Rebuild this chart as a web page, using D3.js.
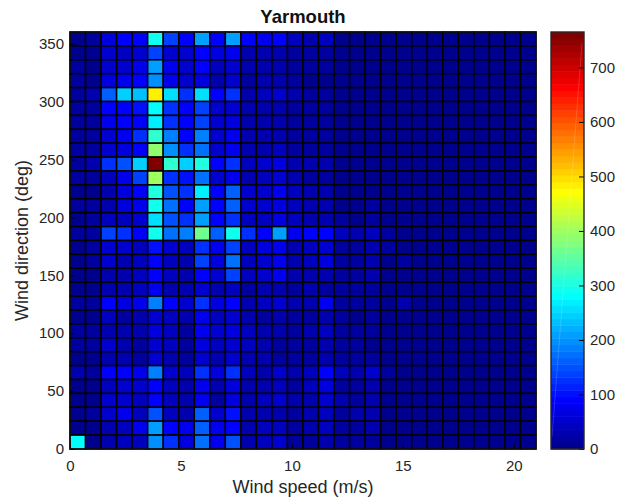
<!DOCTYPE html>
<html><head><meta charset="utf-8">
<script src="https://cdn.jsdelivr.net/npm/d3@7"></script>
<style>html,body{margin:0;background:#fff}svg{display:block}text{font-family:"Liberation Sans",Arial,sans-serif}</style>
</head><body><div id="c"></div>
<script>
const title = "Yarmouth";
const xLabel = "Wind speed (m/s)";
const yLabel = "Wind direction (deg)";
const xTicks = [0,5,10,15,20];
const yTicks = [0,50,100,150,200,250,300,350];
const cTicks = [0,100,200,300,400,500,600,700];
const speedStep = 0.7, dirStep = 12, cMax = 765;
// rows listed from the top of the plot (348-360 deg) down to 0-12 deg; 30 speed bins per row
const r29=[10,15,65,85,90,290,140,90,215,95,215,90,75,95,45,30,45,8,6,6,3,3,3,2,1,1,1,1,1,1];
const r28=[10,6,50,45,50,140,55,50,95,60,80,25,30,35,20,12,15,6,5,5,3,2,2,1,1,1,1,1,1,1];
const r27=[12,8,50,55,75,205,80,50,85,45,50,25,30,35,15,12,12,5,5,4,2,2,1,1,1,1,1,1,1,1];
const r26=[12,8,60,80,95,195,75,50,70,35,50,20,25,25,15,10,10,5,4,4,2,2,1,1,1,1,1,1,1,1];
const r25=[20,30,165,240,235,490,255,130,255,90,125,35,45,50,30,15,15,8,6,5,3,2,2,1,1,1,1,1,1,1];
const r24=[12,15,90,95,100,280,125,85,140,50,55,25,30,35,20,15,12,6,5,5,2,2,1,1,1,1,1,1,1,1];
const r23=[12,15,80,90,95,265,125,90,135,50,65,25,30,30,20,12,12,5,5,4,2,2,1,1,1,1,1,1,1,1];
const r22=[15,15,50,75,130,320,180,90,185,55,80,25,30,35,20,12,12,6,5,5,2,2,1,1,1,1,1,1,1,1];
const r21=[12,15,50,60,95,385,200,125,175,50,80,30,35,40,20,15,12,6,5,5,2,2,1,1,1,1,1,1,1,1];
const r20=[20,25,120,150,250,765,320,240,305,95,130,40,50,60,25,25,25,8,6,6,3,2,2,1,1,1,1,1,1,1];
const r19=[12,12,45,80,135,405,130,100,175,50,80,35,40,50,25,12,12,6,5,5,2,2,1,1,1,1,1,1,1,1];
const r18=[10,10,35,65,90,310,155,120,270,95,160,50,50,80,45,35,35,10,10,10,3,2,2,1,1,1,1,1,1,1];
const r17=[12,12,35,60,75,295,175,90,215,95,165,50,50,60,40,30,30,10,10,12,3,2,2,1,1,1,1,1,1,1];
const r16=[10,12,40,40,50,255,150,120,215,85,125,40,45,70,40,30,35,12,10,15,4,3,2,1,1,1,1,1,1,1];
const r15=[20,20,135,125,95,295,175,190,370,165,295,130,95,215,75,85,90,40,30,45,12,8,5,3,2,2,1,1,1,1];
const r14=[10,12,50,50,45,100,50,45,125,75,140,45,60,75,35,45,50,15,20,25,12,8,5,3,2,2,1,1,1,1];
const r13=[8,15,50,35,40,95,45,35,135,65,170,45,55,75,30,40,70,20,15,35,8,15,5,3,2,2,1,1,1,1];
const r12=[10,10,30,30,45,90,45,35,90,50,135,45,50,80,30,35,35,12,12,25,8,8,4,2,2,1,1,1,1,1];
const r11=[8,8,25,35,40,80,35,25,50,25,45,20,30,30,15,30,15,12,12,12,6,5,3,2,1,1,1,1,1,1];
const r10=[18,20,85,60,80,180,90,55,125,65,85,35,40,55,25,35,75,15,15,12,8,25,8,3,2,1,1,1,1,1];
const r9 =[10,10,45,15,25,50,45,30,80,45,50,35,12,25,20,15,30,12,8,12,6,5,3,2,1,1,1,1,1,1];
const r8 =[15,12,35,25,35,60,45,20,80,50,65,40,25,30,20,30,45,12,12,12,6,5,3,2,1,1,1,1,1,1];
const r7 =[12,20,50,25,12,50,40,15,70,40,50,40,25,20,12,12,35,12,12,8,6,5,3,2,1,1,1,1,1,1];
const r6 =[10,10,30,30,20,50,25,12,55,30,50,25,25,20,12,12,30,12,12,12,6,5,3,2,1,1,1,1,1,1];
const r5 =[25,20,95,90,75,180,55,45,130,65,125,40,35,55,25,45,85,40,30,50,12,8,5,3,2,1,1,1,1,1];
const r4 =[8,8,45,50,50,90,45,25,80,35,65,30,35,40,20,45,65,20,20,25,8,5,4,2,1,1,1,1,1,1];
const r3 =[10,6,50,50,45,95,45,30,80,20,65,30,45,50,25,25,50,25,15,30,8,5,4,2,1,1,1,1,1,1];
const r2 =[8,15,50,75,45,155,45,35,160,50,100,30,30,30,20,25,45,20,25,35,8,5,4,2,1,1,1,1,1,1];
const r1 =[10,6,35,45,75,205,85,75,160,80,95,30,40,45,20,25,45,15,20,25,8,5,4,2,1,1,1,1,1,1];
const r0 =[285,10,30,45,45,195,130,60,170,75,155,35,45,55,20,20,30,15,20,20,8,5,4,2,1,1,1,1,1,1];
const rowsTopDown=[r29,r28,r27,r26,r25,r24,r23,r22,r21,r20,r19,r18,r17,r16,r15,r14,r13,r12,r11,r10,r9,r8,r7,r6,r5,r4,r3,r2,r1,r0];

const W=626,H=501,L=70,R=536,T=32,B=449,CL=551,CR=584,ink="#262626";
const svg=d3.select("#c").append("svg").attr("width",W).attr("height",H);
const nCols=r0.length,nRows=rowsTopDown.length;
const x=d3.scaleLinear().domain([0,nCols*speedStep]).range([L,R]);
const y=d3.scaleLinear().domain([0,nRows*dirStep]).range([B,T]);
const jet=t=>{const f=c=>Math.round(255*Math.max(0,Math.min(1,1.5-Math.abs(4*t-c))));return `rgb(${f(3)},${f(2)},${f(1)})`;};
const levels=d3.range(64).map(i=>jet((i+1)/64));
const color=d3.scaleQuantize().domain([0,cMax]).range(levels);
const cells=rowsTopDown.flatMap((row,i)=>row.map((v,j)=>({v,j,k:nRows-1-i})));
svg.append("g").selectAll("rect").data(cells).join("rect")
 .attr("x",d=>x(d.j*speedStep)).attr("y",d=>y((d.k+1)*dirStep))
 .attr("width",d=>x(speedStep)-x(0)).attr("height",d=>y(0)-y(dirStep))
 .attr("fill",d=>color(d.v)).attr("stroke","#000").attr("stroke-width",1.5);
const style=(g,sz)=>{g.selectAll("text").attr("font-size",sz).attr("fill",ink);g.selectAll("line").attr("stroke","#000");g.select(".domain").remove();};
svg.append("g").attr("transform",`translate(0,${B})`).call(d3.axisBottom(x).tickValues(xTicks).tickSize(-5).tickPadding(11).tickFormat(d3.format("d"))).call(style,15);
svg.append("g").attr("transform",`translate(${L},0)`).call(d3.axisLeft(y).tickValues(yTicks).tickSize(-5).tickPadding(6).tickFormat(d3.format("d"))).call(style,15);
svg.append("rect").attr("x",L).attr("y",T).attr("width",R-L).attr("height",B-T).attr("fill","none").attr("stroke","#111").attr("stroke-width",1.4);
svg.append("text").attr("x",(L+R)/2).attr("y",23).attr("text-anchor","middle").attr("font-weight","bold").attr("font-size",18.5).attr("fill","#111").text(title);
svg.append("text").attr("x",(L+R)/2).attr("y",493).attr("text-anchor","middle").attr("font-size",18).attr("fill",ink).text(xLabel);
svg.append("text").attr("transform",`translate(28,${(T+B)/2}) rotate(-90)`).attr("text-anchor","middle").attr("font-size",18).attr("fill",ink).text(yLabel);
// colour bar
const cy=d3.scaleLinear().domain([0,cMax]).range([B,T]);
svg.append("g").selectAll("rect").data(levels).join("rect")
 .attr("x",CL).attr("width",CR-CL)
 .attr("y",(d,i)=>cy((i+1)/64*cMax)).attr("height",(B-T)/64+0.5).attr("fill",d=>d);
svg.append("line").attr("x1",CR-2).attr("y1",T+11).attr("x2",CL+1).attr("y2",B-12).attr("stroke","#fff").attr("stroke-opacity",.16);
svg.append("g").attr("transform",`translate(${CR},0)`).call(d3.axisRight(cy).tickValues(cTicks).tickSize(-5).tickPadding(6).tickFormat(d3.format("d"))).call(style,15);
svg.append("rect").attr("x",CL).attr("y",T).attr("width",CR-CL).attr("height",B-T).attr("fill","none").attr("stroke","#262626").attr("stroke-width",1.4);
</script></body></html>
